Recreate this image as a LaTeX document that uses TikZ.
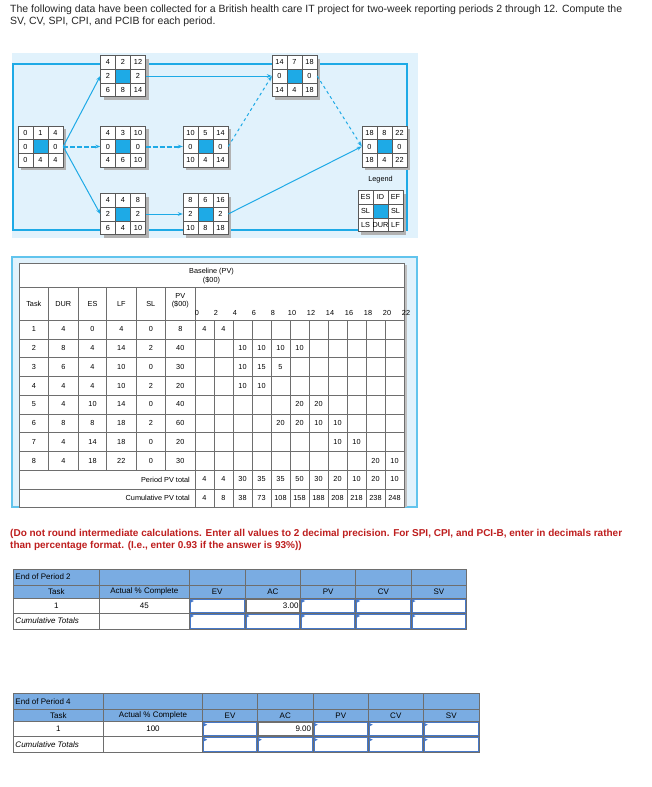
\documentclass[tikz,border=0pt]{standalone}
\usepackage{fontspec}
\setmainfont{Liberation Sans}
\usetikzlibrary{arrows.meta}
\definecolor{netblue}{RGB}{30,170,230}
\definecolor{bgblue}{RGB}{225,242,252}
\definecolor{hdrblue}{RGB}{122,172,226}
\definecolor{gridgray}{RGB}{110,110,110}
\definecolor{redtxt}{RGB}{190,30,30}
\definecolor{inblue}{RGB}{70,120,200}
\tikzset{
  cell/.style={draw=gridgray,line width=0.5pt},
  tx/.style={font=\fontsize{7.3}{8.3}\selectfont,inner sep=0pt},
  bt/.style={font=\fontsize{8}{9}\selectfont,inner sep=0pt},
  conn/.style={draw=netblue,line width=1pt,-{Stealth[length=5pt]}},
  dconn/.style={conn,line width=2pt,dash pattern=on 5pt off 2pt},
  tconn/.style={conn,dashed},
  boxanchor/.style={minimum width=45pt,minimum height=41pt,inner sep=0pt},
  inbox/.style={draw=inblue,line width=0.8pt,fill=white}
}
\newcommand{\netbox}[6]{%
  \fill[gray!60] (#2-22.5+3,#3-20.5+3) rectangle (#2+22.5+3,#3+20.5+3);
  \fill[white] (#2-22.5,#3-20.5) rectangle (#2+22.5,#3+20.5);
  \fill[netblue] (#2-7.5,#3-6.83) rectangle (#2+7.5,#3+6.83);
  \foreach \r in {0,1,2} \foreach \c in {0,1,2}
    \draw[gray!70!black,line width=0.4pt] (#2-22.5+15*\c,#3-20.5+13.67*\r) rectangle ++(15,13.67);
  \foreach \v [count=\c from 0] in {#4} \node[tx] at (#2-15+15*\c,#3-13.67) {\v};
  \foreach \v [count=\c from 0] in {#5} \node[tx] at (#2-15+15*\c,#3) {\v};
  \foreach \v [count=\c from 0] in {#6} \node[tx] at (#2-15+15*\c,#3+13.67) {\v};
  \node[boxanchor] (#1) at (#2,#3) {};
}
\begin{document}
\begin{tikzpicture}[x=1pt,y=-1pt]
\useasboundingbox (0,0) rectangle (651,787);
\fill[white] (0,0) rectangle (651,787);
% intro
\node[anchor=west,font=\fontsize{10.5}{12}\selectfont,text=black!85,inner sep=0pt] (intro1) at (10,10) {The following data have been collected for a British health care IT project for two-week reporting periods 2 through 12. Compute the};
\node[anchor=west,font=\fontsize{10.5}{12}\selectfont,text=black!85,inner sep=0pt] (intro2) at (10,22) {SV, CV, SPI, CPI, and PCIB for each period.};
% network
\fill[bgblue] (12,53) rectangle (418,238);
\draw[netblue,line width=1.2pt] (13,64) rectangle (407,230);
\netbox{A}{40.5}{146.5}{0,1,4}{0,,0}{0,4,4}
\netbox{B}{123}{76}{4,2,12}{2,,2}{6,8,14}
\netbox{C}{123}{146.5}{4,3,10}{0,,0}{4,6,10}
\netbox{D}{205.5}{146.5}{10,5,14}{0,,0}{10,4,14}
\netbox{E}{123}{214}{4,4,8}{2,,2}{6,4,10}
\netbox{F}{205.5}{214}{8,6,16}{2,,2}{10,8,18}
\netbox{G}{294.5}{76}{14,7,18}{0,,0}{14,4,18}
\netbox{H}{384.5}{146.5}{18,8,22}{0,,0}{18,4,22}
\netbox{L}{380.5}{211}{ES,ID,EF}{SL,,SL}{LS,DUR,LF}
\node[tx] (legend) at (380.5,180) {Legend};
\draw[conn] (A.east) -- (B.west);
\draw[dconn] (A.east) -- (C.west);
\draw[conn] (A.east) -- (E.west);
\draw[conn] (B.east) -- (G.west);
\draw[dconn] (C.east) -- (D.west);
\draw[tconn] (D.east) -- (G.west);
\draw[tconn] (G.east) -- (H.west);
\draw[conn] (E.east) -- (F.west);
\draw[conn] (F.east) -- (H.west);
% baseline table
\fill[bgblue] (12,257) rectangle (417,507);
\draw[netblue!70,line width=1.2pt] (12,257) rectangle (417,507);
\fill[gray!50] (404,265) rectangle (407,507);
\fill[white] (19,263) rectangle (404,507);
\draw[cell] (19,263) rectangle (404,507);
\foreach \y in {287,320,338.75,357.5,376.25,395,413.75,432.5,451.25,470,488.75}
  \draw[cell] (19,\y) -- (404,\y);
\foreach \x in {48.3,78.3,106.7,136,165.7} \draw[cell] (\x,287) -- (\x,470);
\draw[cell] (195,287) -- (195,507);
\foreach \i in {1,...,10} \draw[cell] (195+19*\i,320) -- (195+19*\i,507);
\node[tx,align=center] (base) at (211.5,276) {Baseline (PV)\\(\$00)};
\foreach \t/\x in {Task/33.8,DUR/63.3,ES/92.5,LF/121.3,SL/150.8} \node[tx] at (\x,304) {\t};
\node[tx,align=center] (pvh) at (180.3,301) {PV\\(\$00)};
\foreach \t [count=\i from 0] in {0,2,4,6,8,10,12,14,16,18,20,22} \node[tx] at (197+19*\i,313) {\t};
\foreach \a/\b/\c/\d/\e/\f [count=\r from 0] in {1/4/0/4/0/8,2/8/4/14/2/40,3/6/4/10/0/30,4/4/4/10/2/20,5/4/10/14/0/40,6/8/8/18/2/60,7/4/14/18/0/20,8/4/18/22/0/30}{
  \pgfmathsetmacro\yy{329.4+18.75*\r}
  \node[tx] at (33.8,\yy) {\a}; \node[tx] at (63.3,\yy) {\b}; \node[tx] at (92.5,\yy) {\c};
  \node[tx] at (121.3,\yy) {\d}; \node[tx] at (150.8,\yy) {\e}; \node[tx] at (180.3,\yy) {\f};
}
\foreach \r/\c/\v in {0/1/4,0/2/4,1/3/10,1/4/10,1/5/10,1/6/10,2/3/10,2/4/15,2/5/5,3/3/10,3/4/10,4/6/20,4/7/20,5/5/20,5/6/20,5/7/10,5/8/10,6/8/10,6/9/10,7/10/20,7/11/10}
  \node[tx] at (185.5+19*\c,329.4+18.75*\r) {\v};
\node[tx,anchor=east] (ptot) at (190,479.4) {Period PV total};
\node[tx,anchor=east] (ctot) at (190,498.1) {Cumulative PV total};
\foreach \v [count=\c] in {4,4,30,35,35,50,30,20,10,20,10} \node[tx] at (185.5+19*\c,479.4) {\v};
\foreach \v [count=\c] in {4,8,38,73,108,158,188,208,218,238,248} \node[tx] at (185.5+19*\c,498.1) {\v};
% instruction
\node[anchor=west,font=\fontsize{10}{12}\selectfont\bfseries,text=redtxt,inner sep=0pt] (instr1) at (10,534) {(Do not round intermediate calculations. Enter all values to 2 decimal precision. For SPI, CPI, and PCI-B, enter in decimals rather};
\node[anchor=west,font=\fontsize{10}{12}\selectfont\bfseries,text=redtxt,inner sep=0pt] (instr2) at (10,546) {than percentage format. (I.e., enter 0.93 if the answer is 93\%))};
% bottom tables
\foreach \pp/\pct/\ac/\ya/\yb/\yc/\yd/\ye/\xa/\xb/\xc/\xd/\xe/\xf/\xg/\xh in
  {2/45/3.00/569/585/598/613/629/13.3/99.3/189.3/245/300.7/355.7/411/466.7,
   4/100/9.00/693.3/709.3/721.7/736.7/752.7/13.3/103.3/202.7/257.3/313.3/368.3/423.3/479.3}{
  \fill[hdrblue] (\xa,\ya) rectangle (\xh,\yc);
  \draw[cell] (\xa,\ya) rectangle (\xh,\ye);
  \foreach \y in {\yb,\yc,\yd} \draw[cell] (\xa,\y) -- (\xh,\y);
  \foreach \x in {\xb,\xc,\xd,\xe,\xf,\xg} \draw[cell] (\x,\ya) -- (\x,\ye);
  \node[bt,anchor=west] at (\xa+2,{(\ya+\yb)/2}) {End of Period \pp};
  \node[bt] at ({(\xa+\xb)/2},{(\yb+\yc)/2}) {Task};
  \node[bt] at ({(\xb+\xc)/2},{(\yb+\yc)/2}) {Actual \% Complete};
  \foreach \t/\l/\r in {EV/\xc/\xd,AC/\xd/\xe,PV/\xe/\xf,CV/\xf/\xg,SV/\xg/\xh}
    \node[bt] at ({(\l+\r)/2},{(\yb+\yc)/2}) {\t};
  \node[bt] at ({(\xa+\xb)/2},{(\yc+\yd)/2}) {1};
  \node[bt] at ({(\xb+\xc)/2},{(\yc+\yd)/2}) {\pct};
  \node[bt,anchor=west] at (\xa+2,{(\yd+\ye)/2}) {\itshape Cumulative Totals};
  \foreach \l/\r in {\xc/\xd,\xe/\xf,\xf/\xg,\xg/\xh}{
    \draw[inbox] (\l+1,\yc+1) rectangle (\r-1,\yd-1);
    \fill[inblue] (\l+1.5,\yc+1.5) -- ++(3,1.5) -- ++(-3,1.5) -- cycle;}
  \foreach \l/\r in {\xc/\xd,\xd/\xe,\xe/\xf,\xf/\xg,\xg/\xh}{
    \draw[inbox] (\l+1,\yd+1) rectangle (\r-1,\ye-1);
    \fill[inblue] (\l+1.5,\yd+1.5) -- ++(3,1.5) -- ++(-3,1.5) -- cycle;}
  \draw[gridgray,line width=0.6pt] (\xd+1,\yc+1) rectangle (\xe-1,\yd-1);
  \node[bt,anchor=east] at (\xe-2,{(\yc+\yd)/2}) {\ac};
}
\end{tikzpicture}
\end{document}
